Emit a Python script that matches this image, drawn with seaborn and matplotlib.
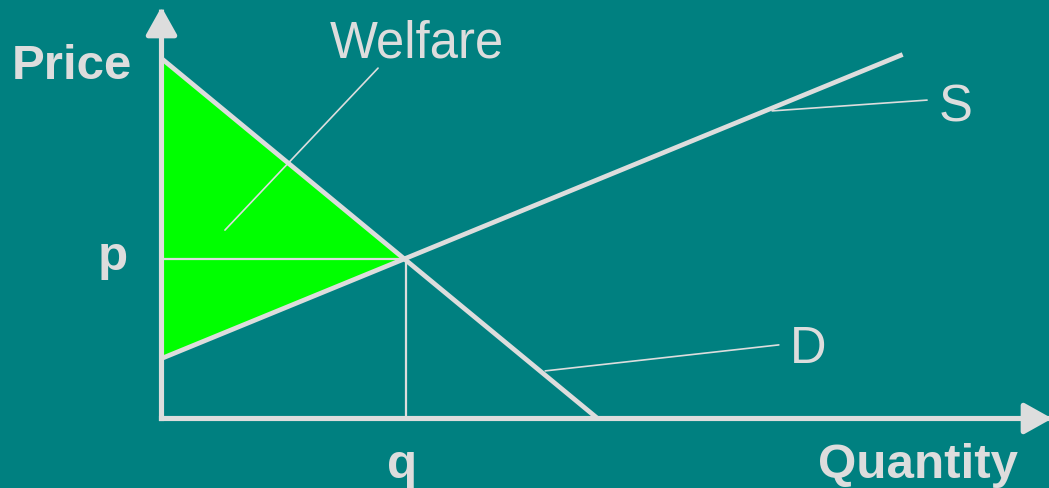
import matplotlib
matplotlib.use("Agg")
import matplotlib.pyplot as plt
from matplotlib.patches import FancyArrowPatch
import pandas as pd
import seaborn as sns

# Market model: linear demand and supply, equilibrium (q, p)
demand_q = [0.0, 7.15]
demand_p = [9.0, 0.0]
supply_q = [0.0, 12.15]
supply_p = [1.5, 9.1]
eq_q = 4.0
eq_p = 4.0

axis_labels = ["Price", "Quantity"]
point_labels = ["p", "q"]
curve_labels = ["S", "D"]
area_label = "Welfare"

BG = "#008080"
FG = "#DDDDDD"
GREEN = "#00FF00"

sns.set_style("white")
plt.rcParams["font.family"] = ["Liberation Sans", "DejaVu Sans"]

fig = plt.figure(figsize=(10.49, 4.89), dpi=100, facecolor=BG)
ax = fig.add_axes([0, 0, 1, 1])
ax.set_xlim(-2.6475, 14.549)
ax.set_ylim(-1.7375, 10.4875)
ax.axis("off")

# Consumer + producer surplus triangle
ax.fill([0, eq_q, 0], [demand_p[0], eq_p, supply_p[0]], color=GREEN, lw=0, zorder=1)

# Guides from the equilibrium to the axes
ax.plot([0, eq_q], [eq_p, eq_p], color=FG, lw=1.6, zorder=2)
ax.plot([eq_q, eq_q], [eq_p, 0], color=FG, lw=1.6, zorder=2)

# Demand and supply curves
curves = pd.DataFrame({
    "q": demand_q + supply_q,
    "price": demand_p + supply_p,
    "curve": ["D", "D", "S", "S"],
})
sns.lineplot(data=curves, x="q", y="price", units="curve", estimator=None,
             color=FG, lw=3.4, ax=ax, zorder=3, solid_capstyle="butt",
             legend=False)

# Axes with arrow heads
for end in [(0, 10.29), (14.6, 0)]:
    ax.add_patch(FancyArrowPatch((0, 0), end,
                                 arrowstyle="-|>,head_length=17,head_width=9.5",
                                 mutation_scale=1, shrinkA=0, shrinkB=0,
                                 color=FG, lw=3.7, zorder=4,
                                 joinstyle="round", capstyle="projecting"))

# Leader lines for labels
leader_kw = dict(color=FG, lw=1.2, zorder=3)
ax.plot([3.55, 1.04], [8.76, 4.71], **leader_kw)
ax.plot([12.55, 10.01], [7.96, 7.69], **leader_kw)
ax.plot([10.12, 6.29], [1.84, 1.19], **leader_kw)

bold = dict(color=FG, fontsize=35.5, fontweight="bold", ha="center", va="baseline")
normal = dict(color=FG, fontsize=36.5, ha="center", va="baseline")
ax.text(-1.467, 8.51, axis_labels[0], **bold)
ax.text(12.40, -1.46, axis_labels[1], **bold)
ax.text(-0.795, 3.74, point_labels[0], **bold)
ax.text(3.94, -1.46, point_labels[1], **bold)
ax.text(4.19, 9.06, area_label, **normal)
ax.text(13.01, 7.44, curve_labels[0], **normal)
ax.text(10.60, 1.41, curve_labels[1], **normal)

fig.savefig("out.png", dpi=100, facecolor=BG)
